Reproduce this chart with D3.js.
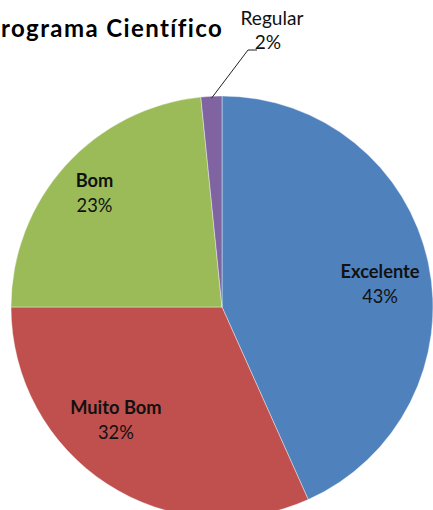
<!DOCTYPE html>
<html><head><meta charset="utf-8">
<script src="https://cdn.jsdelivr.net/npm/d3@7/dist/d3.min.js"></script>
<style>html,body{margin:0;padding:0;background:#fff;overflow:hidden}</style>
</head><body>
<script>
const title = "rograma Científico";
const categories = ["Excelente", "Muito Bom", "Bom", "Regular"];
const values = [43.3, 31.7, 23.4, 1.6];
const labels = ["43%", "32%", "23%", "2%"];
const colors = ["#4F81BD", "#C0504D", "#9BBB59", "#8064A2"];

const W = 433, H = 510;
const cx = 222, cy = 307, R = 211;
const font = "Lato, 'Open Sans', sans-serif";

const svg = d3.select("body").append("svg").attr("width", W).attr("height", H);

function measure(str, weight, size) {
  const tmp = svg.append("text").attr("font-family", font).attr("font-weight", weight)
    .attr("font-size", size).text(str);
  const w = tmp.node().getComputedTextLength();
  tmp.remove();
  return w;
}

const pie = d3.pie().sort(null).value(d => d.v);
const data = pie(categories.map((c, i) => ({c, v: values[i], l: labels[i], col: colors[i]})));
const arc = d3.arc().innerRadius(0).outerRadius(R);

const g = svg.append("g").attr("transform", `translate(${cx},${cy})`);
g.selectAll("path").data(data).join("path")
  .attr("d", arc).attr("fill", d => d.data.col)
  .attr("stroke", "#fff").attr("stroke-width", 0.4);

// title
{
  const fs = 24;
  const w = measure(title, "bold", fs);
  const ls = Math.max(0, (221 - w) / (title.length - 1));
  const t = svg.append("text").attr("font-family", font).attr("font-weight", "bold")
    .attr("font-size", fs).attr("fill", "#000").attr("x", 1).attr("y", 37)
    .attr("letter-spacing", ls).text(title);
  if (w > 221) t.attr("font-size", fs * 221 / w);
}

// inner labels
const labelFs = 16 * 79 / measure("Excelente", "bold", 16);
const labelLayout = [
  {r: 159, da: 0.104},
  {r: 160, da: 0.15},
  {r: 167, da: -0.033},
  null
];
data.forEach((d, i) => {
  const L = labelLayout[i];
  if (!L) return;
  const a = (d.startAngle + d.endAngle) / 2 + L.da;
  const x = cx + L.r * Math.sin(a), y = cy - L.r * Math.cos(a);
  const tx = svg.append("text").attr("font-family", font).attr("font-size", labelFs)
    .attr("text-anchor", "middle").attr("fill", "#111");
  tx.append("tspan").attr("x", x).attr("y", y - 12.5).attr("font-weight", "bold").text(d.data.c);
  tx.append("tspan").attr("x", x).attr("y", y + 12.5).text(d.data.l);
});

// Regular: outside label with leader line
{
  const d = data[3];
  const a = (d.startAngle + d.endAngle) / 2;
  const px = cx + (R - 2) * Math.sin(a), py = cy - (R - 2) * Math.cos(a);
  svg.append("path").attr("d", `M${px},${py}L248,50L257,50`)
    .attr("fill", "none").attr("stroke", "#222").attr("stroke-width", 1);
  const regFs = 16 * 63 / measure("Regular", "normal", 16);
  const tx = svg.append("text").attr("font-family", font).attr("font-size", regFs)
    .attr("text-anchor", "middle").attr("fill", "#111");
  tx.append("tspan").attr("x", 272).attr("y", 25).text(d.data.c);
  tx.append("tspan").attr("x", 268).attr("y", 49).text(d.data.l);
}
</script>
</body></html>
